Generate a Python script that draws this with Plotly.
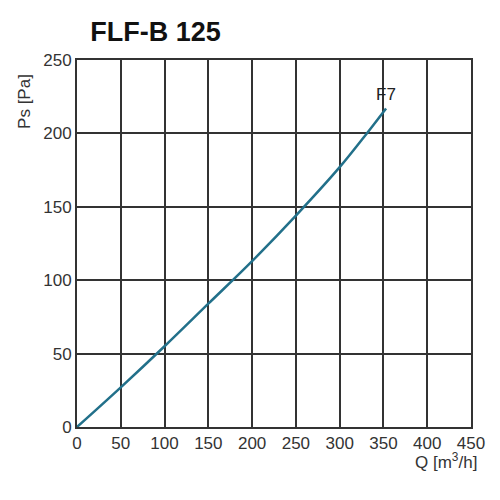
import plotly.graph_objects as go

# airflow vs static pressure
q_flow = [0, 50, 100, 150, 200, 250, 300, 331, 353]
ps_pressure = [0, 27, 55, 84, 113, 144, 177, 200, 217]
curve_name = 'F7'
title = 'FLF-B 125'

x_ticks = list(range(0, 451, 50))
y_ticks = list(range(0, 251, 50))

fig = go.Figure()
fig.add_trace(go.Scatter(x=q_flow, y=ps_pressure, mode='lines',
                         line=dict(color='#22708a', width=2.5, shape='spline', smoothing=1.0),
                         showlegend=False, cliponaxis=False))

fig.add_annotation(x=q_flow[-1], y=ps_pressure[-1], text=curve_name, showarrow=False, yshift=14,
                   font=dict(size=17, color='#222'))

# page body adds 8px, so margins are shifted by that
fig.update_layout(
    width=500, height=500,
    margin=dict(l=69, r=37, t=52, b=81),
    paper_bgcolor='white', plot_bgcolor='white',
    font=dict(family='Liberation Sans, Arial', size=17, color='#333'),
    title=dict(text='<b>' + title + '</b>', x=0.295, xanchor='center', y=0.952, yanchor='middle',
               font=dict(size=27, color='#111')),
)
fig.update_xaxes(range=[0, 450], tickvals=x_ticks, showgrid=True, gridcolor='#333', gridwidth=1.5,
                 showline=True, linecolor='#333', linewidth=2, mirror=True, zeroline=False, ticks='', ticklen=0)
fig.update_yaxes(range=[0, 250], tickvals=y_ticks, showgrid=True, gridcolor='#333', gridwidth=1.5,
                 showline=True, linecolor='#333', linewidth=2, mirror=True, zeroline=False, ticks='', ticklen=0)

fig.add_annotation(xref='paper', yref='paper', x=-0.135, y=0.888, text='Ps [Pa]', textangle=-90, showarrow=False,
                   font=dict(size=17, color='#333'), xanchor='center', yanchor='middle')
fig.add_annotation(xref='paper', yref='paper', x=1.02, y=-0.092, text='Q [m<sup>3</sup>/h]', showarrow=False,
                   font=dict(size=17, color='#333'), xanchor='right', yanchor='middle')

fig.write_html('out.html')
